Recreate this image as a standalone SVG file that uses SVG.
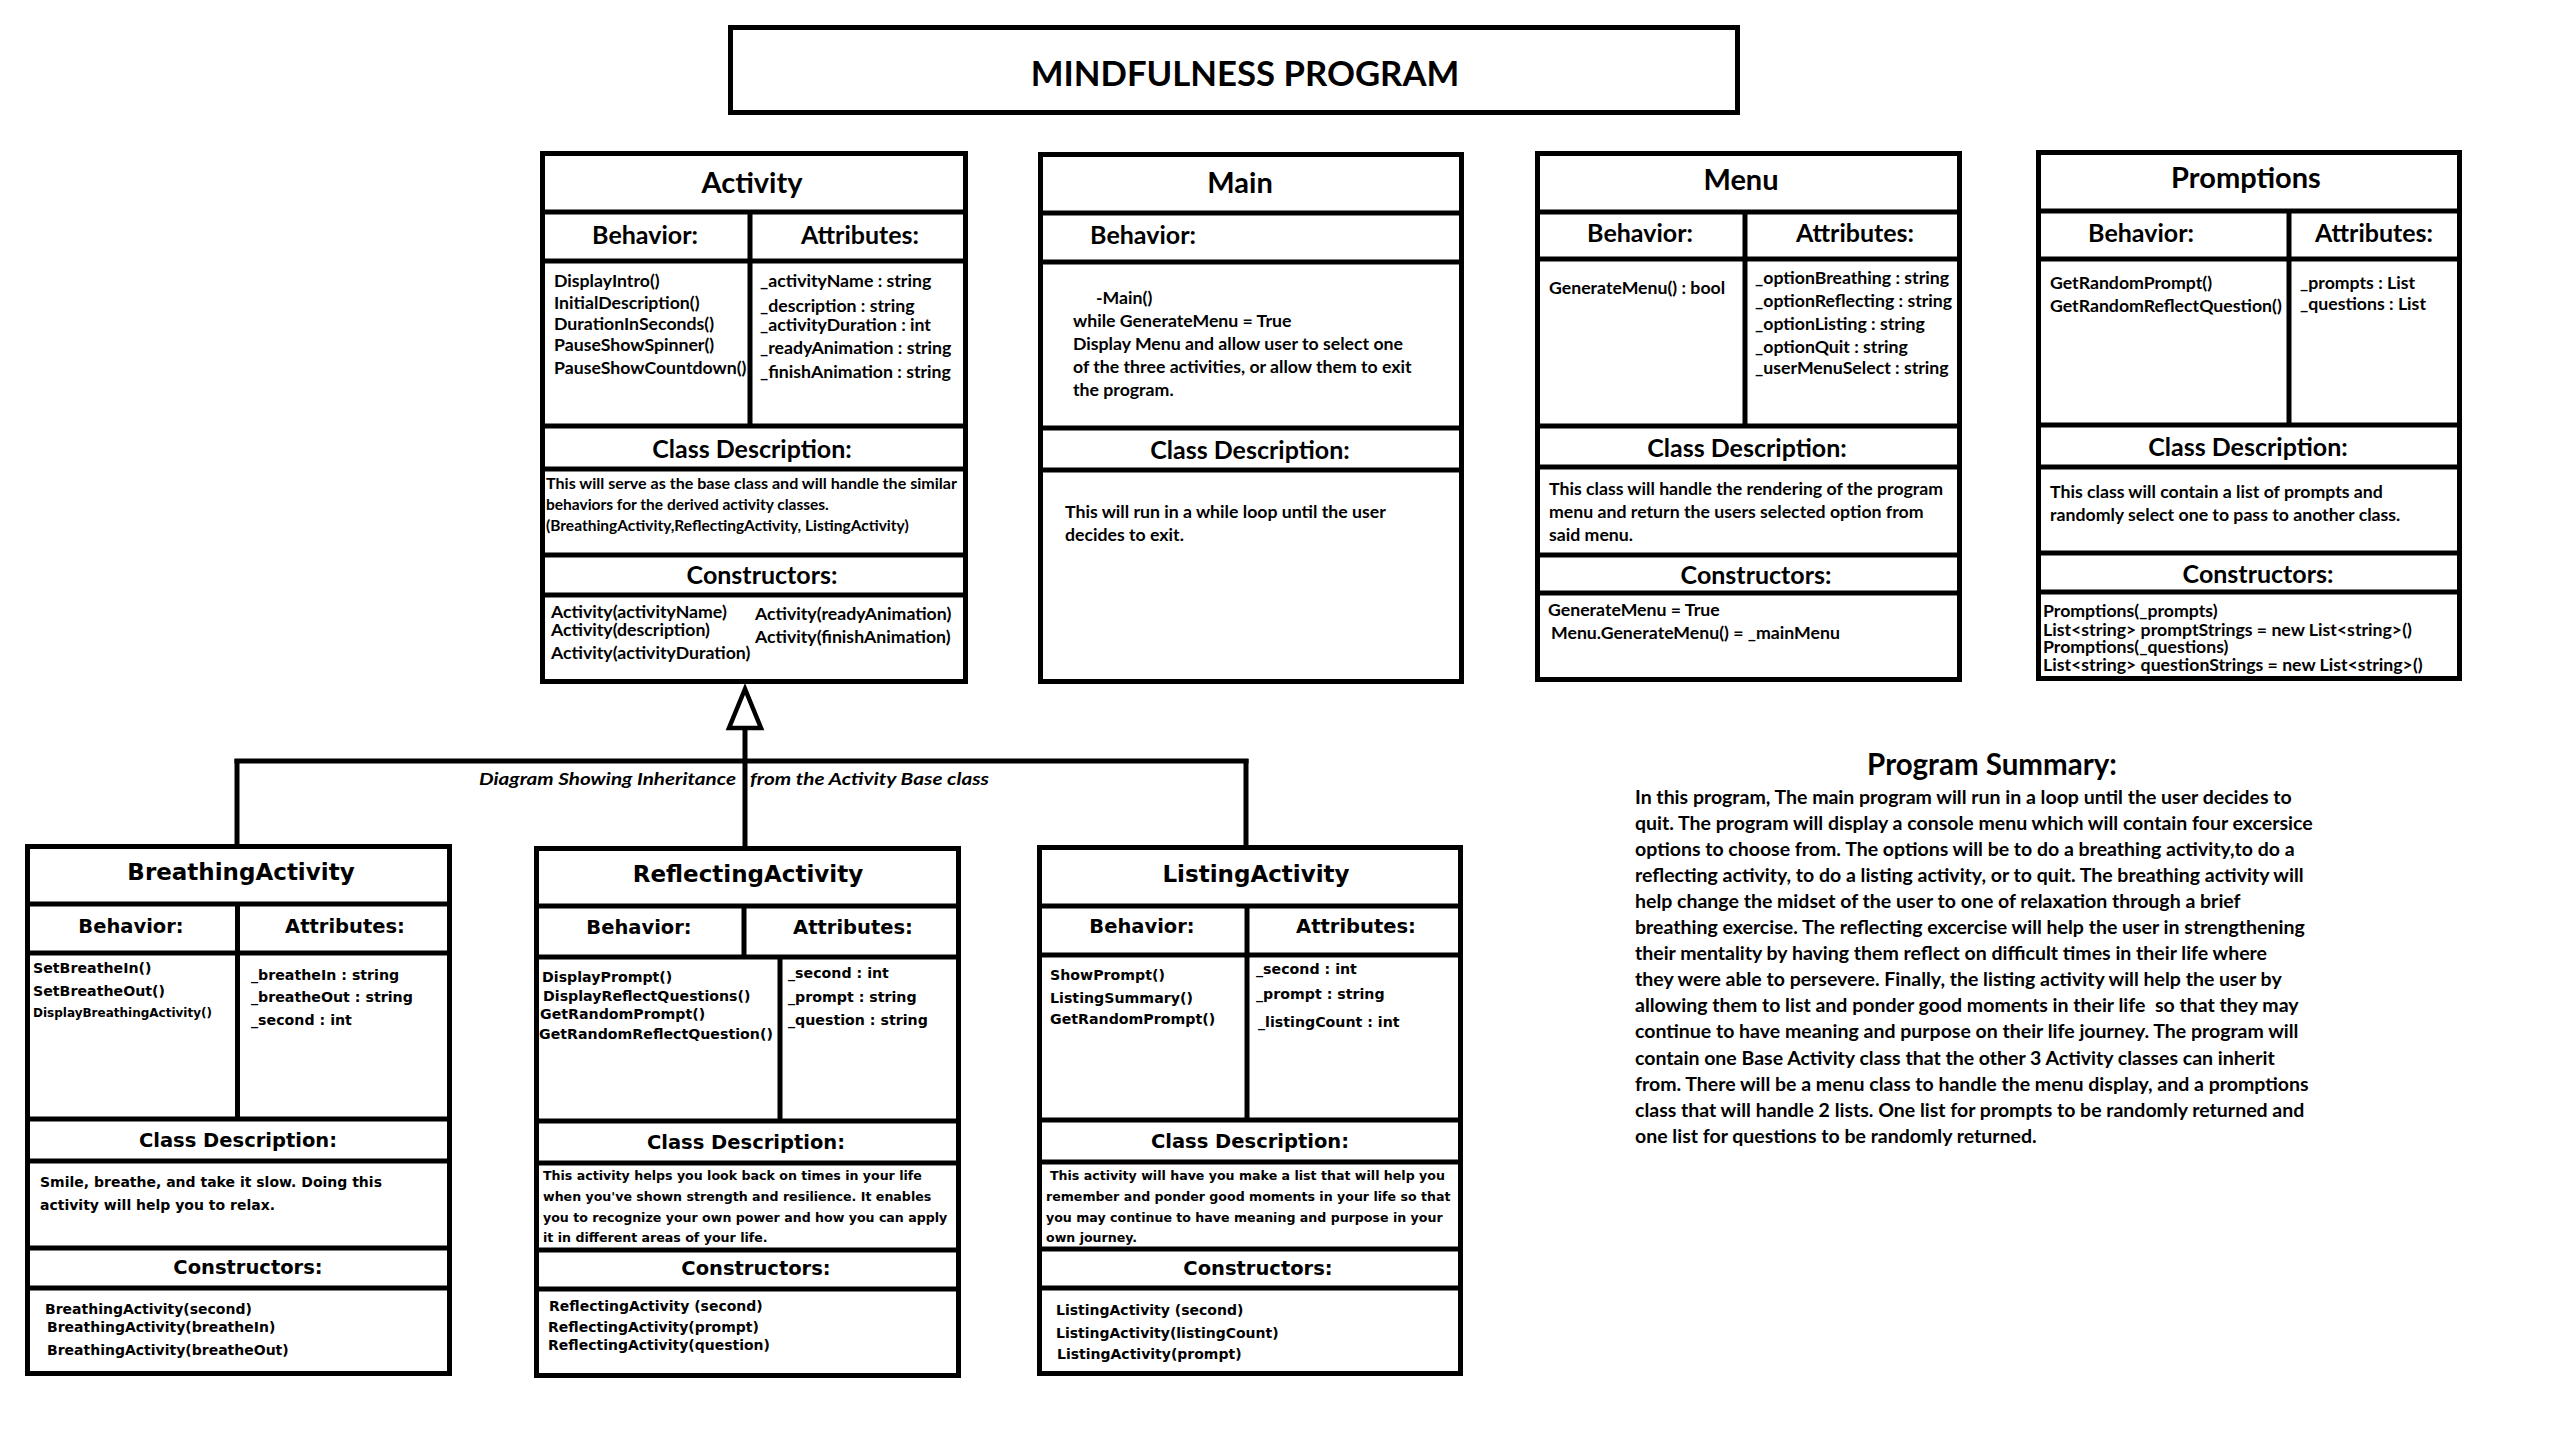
<svg xmlns="http://www.w3.org/2000/svg" width="2568" height="1444" viewBox="0 0 2568 1444">
<style>
.box{fill:#fff;stroke:#000;stroke-width:5}
.ln{stroke:#000;stroke-width:5;fill:none}
.t{font-family:Lato,"Open Sans","Liberation Sans",sans-serif;font-weight:700;fill:#000;dominant-baseline:central}
.m{text-anchor:middle}
.ttl{font-size:34.7px}
.h1{font-size:29px}
.h2{font-size:25px}
.c{font-size:17.7px}
.d{font-size:15.5px}
.b{font-family:"DejaVu Sans","Liberation Sans",sans-serif;font-weight:700;fill:#000;dominant-baseline:central}
.bh1{font-size:23px}
.bh2{font-size:19.5px}
.bc{font-size:14.2px}
.bd{font-size:12.6px}
.bk{font-size:14px}
.lab{font-family:Lato,"Open Sans",sans-serif;font-style:italic;font-weight:700;font-size:17px;fill:#000;dominant-baseline:central}
.sum{font-size:19.5px;white-space:pre}
</style>
<rect x="0" y="0" width="2568" height="1444" fill="#fff"/>

<g id="title">
<rect class="box" x="730.5" y="27.5" width="1007" height="85"/>
<text class="t m ttl" x="1245" y="72">MINDFULNESS PROGRAM</text>
</g>

<g id="activity">
<rect class="box" x="542.5" y="153.5" width="423" height="528"/>
<line class="ln" x1="542" y1="212" x2="966" y2="212"/>
<line class="ln" x1="542" y1="261" x2="966" y2="261"/>
<line class="ln" x1="750" y1="212" x2="750" y2="426"/>
<line class="ln" x1="542" y1="426" x2="966" y2="426"/>
<line class="ln" x1="542" y1="469" x2="966" y2="469"/>
<line class="ln" x1="542" y1="555" x2="966" y2="555"/>
<line class="ln" x1="542" y1="595" x2="966" y2="595"/>
<text class="t m h1" x="752" y="181">Activity</text>
<text class="t m h2" x="645" y="234">Behavior:</text>
<text class="t m h2" x="860" y="234">Attributes:</text>
<text class="t c" x="554" y="280">DisplayIntro()</text>
<text class="t c" x="554" y="302">InitialDescription()</text>
<text class="t c" x="554" y="323">DurationInSeconds()</text>
<text class="t c" x="554" y="344">PauseShowSpinner()</text>
<text class="t c" x="554" y="367">PauseShowCountdown()</text>
<text class="t c" x="760" y="280">_activityName : string</text>
<text class="t c" x="760" y="305">_description : string</text>
<text class="t c" x="760" y="324">_activityDuration : int</text>
<text class="t c" x="760" y="347">_readyAnimation : string</text>
<text class="t c" x="760" y="371">_finishAnimation : string</text>
<text class="t m h2" x="752" y="448">Class Description:</text>
<text class="t d" x="546" y="483" textLength="411" lengthAdjust="spacingAndGlyphs">This will serve as the base class and will handle the similar</text>
<text class="t d" x="546" y="504">behaviors for the derived activity classes.</text>
<text class="t d" x="546" y="525">(BreathingActivity,ReflectingActivity, ListingActivity)</text>
<text class="t m h2" x="762" y="574">Constructors:</text>
<text class="t c" x="551" y="611">Activity(activityName)</text>
<text class="t c" x="551" y="629">Activity(description)</text>
<text class="t c" x="551" y="652">Activity(activityDuration)</text>
<text class="t c" x="755" y="613">Activity(readyAnimation)</text>
<text class="t c" x="755" y="636">Activity(finishAnimation)</text>
</g>

<g id="main">
<rect class="box" x="1040.5" y="154.5" width="421" height="527"/>
<line class="ln" x1="1040" y1="213" x2="1462" y2="213"/>
<line class="ln" x1="1040" y1="262" x2="1462" y2="262"/>
<line class="ln" x1="1040" y1="428" x2="1462" y2="428"/>
<line class="ln" x1="1040" y1="470" x2="1462" y2="470"/>
<text class="t m h1" x="1240" y="181">Main</text>
<text class="t m h2" x="1143" y="234">Behavior:</text>
<text class="t c" x="1096" y="297">-Main()</text>
<text class="t c" x="1073" y="320">while GenerateMenu = True</text>
<text class="t c" x="1073" y="343">Display Menu and allow user to select one</text>
<text class="t c" x="1073" y="366">of the three activities, or allow them to exit</text>
<text class="t c" x="1073" y="389">the program.</text>
<text class="t m h2" x="1250" y="449">Class Description:</text>
<text class="t c" x="1065" y="511">This will run in a while loop until the user</text>
<text class="t c" x="1065" y="534">decides to exit.</text>
</g>

<g id="menu">
<rect class="box" x="1537.5" y="153.5" width="422" height="526"/>
<line class="ln" x1="1537" y1="212" x2="1960" y2="212"/>
<line class="ln" x1="1537" y1="259" x2="1960" y2="259"/>
<line class="ln" x1="1745" y1="212" x2="1745" y2="426"/>
<line class="ln" x1="1537" y1="426" x2="1960" y2="426"/>
<line class="ln" x1="1537" y1="467" x2="1960" y2="467"/>
<line class="ln" x1="1537" y1="555" x2="1960" y2="555"/>
<line class="ln" x1="1537" y1="593" x2="1960" y2="593"/>
<text class="t m h1" x="1741" y="178">Menu</text>
<text class="t m h2" x="1640" y="232">Behavior:</text>
<text class="t m h2" x="1855" y="232">Attributes:</text>
<text class="t c" x="1549" y="287">GenerateMenu() : bool</text>
<text class="t c" x="1755" y="277">_optionBreathing : string</text>
<text class="t c" x="1755" y="300">_optionReflecting : string</text>
<text class="t c" x="1755" y="323">_optionListing : string</text>
<text class="t c" x="1755" y="346">_optionQuit : string</text>
<text class="t c" x="1755" y="367">_userMenuSelect : string</text>
<text class="t m h2" x="1747" y="447">Class Description:</text>
<text class="t c" x="1549" y="488">This class will handle the rendering of the program</text>
<text class="t c" x="1549" y="511">menu and return the users selected option from</text>
<text class="t c" x="1549" y="534">said menu.</text>
<text class="t m h2" x="1756" y="574">Constructors:</text>
<text class="t c" x="1548" y="609">GenerateMenu = True</text>
<text class="t c" x="1551" y="632">Menu.GenerateMenu() = _mainMenu</text>
</g>

<g id="promptions">
<rect class="box" x="2038.5" y="152.5" width="421" height="526"/>
<line class="ln" x1="2038" y1="211" x2="2460" y2="211"/>
<line class="ln" x1="2038" y1="259" x2="2460" y2="259"/>
<line class="ln" x1="2289" y1="211" x2="2289" y2="425"/>
<line class="ln" x1="2038" y1="425" x2="2460" y2="425"/>
<line class="ln" x1="2038" y1="467" x2="2460" y2="467"/>
<line class="ln" x1="2038" y1="553" x2="2460" y2="553"/>
<line class="ln" x1="2038" y1="592" x2="2460" y2="592"/>
<text class="t m h1" x="2246" y="176">Promptions</text>
<text class="t m h2" x="2141" y="232">Behavior:</text>
<text class="t m h2" x="2374" y="232">Attributes:</text>
<text class="t c" x="2050" y="282">GetRandomPrompt()</text>
<text class="t c" x="2050" y="305">GetRandomReflectQuestion()</text>
<text class="t c" x="2300" y="282">_prompts : List</text>
<text class="t c" x="2300" y="303">_questions : List</text>
<text class="t m h2" x="2248" y="446">Class Description:</text>
<text class="t c" x="2050" y="491">This class will contain a list of prompts and</text>
<text class="t c" x="2050" y="514">randomly select one to pass to another class.</text>
<text class="t m h2" x="2258" y="573">Constructors:</text>
<text class="t c" x="2043" y="610">Promptions(_prompts)</text>
<text class="t c" x="2043" y="629">List&lt;string&gt; promptStrings = new List&lt;string&gt;()</text>
<text class="t c" x="2043" y="646">Promptions(_questions)</text>
<text class="t c" x="2043" y="664">List&lt;string&gt; questionStrings = new List&lt;string&gt;()</text>
</g>

<g id="connectors">
<line class="ln" x1="745" y1="728" x2="745" y2="848"/>
<line class="ln" x1="234.5" y1="761" x2="1248.5" y2="761"/>
<line class="ln" x1="237" y1="759" x2="237" y2="847"/>
<line class="ln" x1="1246" y1="759" x2="1246" y2="847"/>
<polygon points="745,689 729,728 761,728" fill="#fff" stroke="#000" stroke-width="4.5" stroke-linejoin="miter"/>
<text class="lab" x="479" y="778" textLength="257" lengthAdjust="spacingAndGlyphs">Diagram Showing Inheritance</text>
<text class="lab" x="750" y="778" textLength="239" lengthAdjust="spacingAndGlyphs">from the Activity Base class</text>
</g>

<g id="breathing">
<rect class="box" x="27.5" y="846.5" width="422" height="527"/>
<line class="ln" x1="27" y1="904" x2="450" y2="904"/>
<line class="ln" x1="27" y1="953" x2="450" y2="953"/>
<line class="ln" x1="237.5" y1="904" x2="237.5" y2="1119"/>
<line class="ln" x1="27" y1="1119" x2="450" y2="1119"/>
<line class="ln" x1="27" y1="1161" x2="450" y2="1161"/>
<line class="ln" x1="27" y1="1248" x2="450" y2="1248"/>
<line class="ln" x1="27" y1="1288" x2="450" y2="1288"/>
<text class="b m bh1" x="241" y="872">BreathingActivity</text>
<text class="b m bh2" x="131" y="926">Behavior:</text>
<text class="b m bh2" x="345" y="926">Attributes:</text>
<text class="b bc" x="33" y="968">SetBreatheIn()</text>
<text class="b bc" x="33" y="991">SetBreatheOut()</text>
<text class="b" x="33" y="1013" font-size="12">DisplayBreathingActivity()</text>
<text class="b bc" x="251" y="975">_breatheIn : string</text>
<text class="b bc" x="251" y="997">_breatheOut : string</text>
<text class="b bc" x="251" y="1020">_second : int</text>
<text class="b m bh2" x="238" y="1140">Class Description:</text>
<text class="b" x="40" y="1182" font-size="14">Smile, breathe, and take it slow. Doing this</text>
<text class="b" x="40" y="1205" font-size="14">activity will help you to relax.</text>
<text class="b m bh2" x="248" y="1267">Constructors:</text>
<text class="b bk" x="45" y="1309">BreathingActivity(second)</text>
<text class="b bk" x="47" y="1327">BreathingActivity(breatheIn)</text>
<text class="b bk" x="47" y="1350">BreathingActivity(breatheOut)</text>
</g>

<g id="reflecting">
<rect class="box" x="536.5" y="848.5" width="422" height="527"/>
<line class="ln" x1="536" y1="906" x2="959" y2="906"/>
<line class="ln" x1="536" y1="957" x2="959" y2="957"/>
<line class="ln" x1="744" y1="906" x2="744" y2="957"/>
<line class="ln" x1="780" y1="957" x2="780" y2="1121"/>
<line class="ln" x1="536" y1="1121" x2="959" y2="1121"/>
<line class="ln" x1="536" y1="1163" x2="959" y2="1163"/>
<line class="ln" x1="536" y1="1250" x2="959" y2="1250"/>
<line class="ln" x1="536" y1="1289" x2="959" y2="1289"/>
<text class="b m bh1" x="748" y="874">ReflectingActivity</text>
<text class="b m bh2" x="639" y="927">Behavior:</text>
<text class="b m bh2" x="853" y="927">Attributes:</text>
<text class="b bc" x="542" y="977">DisplayPrompt()</text>
<text class="b bc" x="543" y="996">DisplayReflectQuestions()</text>
<text class="b bc" x="540" y="1014">GetRandomPrompt()</text>
<text class="b bc" x="539" y="1034">GetRandomReflectQuestion()</text>
<text class="b bc" x="788" y="973">_second : int</text>
<text class="b bc" x="788" y="997">_prompt : string</text>
<text class="b bc" x="788" y="1020">_question : string</text>
<text class="b m bh2" x="746" y="1142">Class Description:</text>
<text class="b bd" x="543" y="1175">This activity helps you look back on times in your life</text>
<text class="b bd" x="543" y="1196">when you've shown strength and resilience. It enables</text>
<text class="b bd" x="543" y="1217">you to recognize your own power and how you can apply</text>
<text class="b bd" x="543" y="1237">it in different areas of your life.</text>
<text class="b m bh2" x="756" y="1268">Constructors:</text>
<text class="b bk" x="549" y="1306">ReflectingActivity (second)</text>
<text class="b bk" x="548" y="1327">ReflectingActivity(prompt)</text>
<text class="b bk" x="548" y="1345">ReflectingActivity(question)</text>
</g>

<g id="listing">
<rect class="box" x="1039.5" y="847.5" width="421" height="526"/>
<line class="ln" x1="1039" y1="906" x2="1461" y2="906"/>
<line class="ln" x1="1039" y1="955" x2="1461" y2="955"/>
<line class="ln" x1="1247" y1="906" x2="1247" y2="1120"/>
<line class="ln" x1="1039" y1="1120" x2="1461" y2="1120"/>
<line class="ln" x1="1039" y1="1162" x2="1461" y2="1162"/>
<line class="ln" x1="1039" y1="1249" x2="1461" y2="1249"/>
<line class="ln" x1="1039" y1="1288" x2="1461" y2="1288"/>
<text class="b m bh1" x="1256" y="874">ListingActivity</text>
<text class="b m bh2" x="1142" y="926">Behavior:</text>
<text class="b m bh2" x="1356" y="926">Attributes:</text>
<text class="b bc" x="1050" y="975">ShowPrompt()</text>
<text class="b bc" x="1050" y="998">ListingSummary()</text>
<text class="b bc" x="1050" y="1019">GetRandomPrompt()</text>
<text class="b bc" x="1256" y="969">_second : int</text>
<text class="b bc" x="1256" y="994">_prompt : string</text>
<text class="b bc" x="1258" y="1022">_listingCount : int</text>
<text class="b m bh2" x="1250" y="1141">Class Description:</text>
<text class="b bd" x="1050" y="1175">This activity will have you make a list that will help you</text>
<text class="b bd" x="1046" y="1196">remember and ponder good moments in your life so that</text>
<text class="b bd" x="1046" y="1217">you may continue to have meaning and purpose in your</text>
<text class="b bd" x="1046" y="1237">own journey.</text>
<text class="b m bh2" x="1258" y="1268">Constructors:</text>
<text class="b bk" x="1056" y="1310">ListingActivity (second)</text>
<text class="b bk" x="1056" y="1333">ListingActivity(listingCount)</text>
<text class="b bk" x="1057" y="1354">ListingActivity(prompt)</text>
</g>

<g id="summary">
<text class="t m" x="1992" y="763" font-size="29.5">Program Summary:</text>
<text class="t sum" x="1635" y="796">In this program, The main program will run in a loop until the user decides to</text>
<text class="t sum" x="1635" y="822">quit. The program will display a console menu which will contain four excersice</text>
<text class="t sum" x="1635" y="848">options to choose from. The options will be to do a breathing activity,to do a</text>
<text class="t sum" x="1635" y="874">reflecting activity, to do a listing activity, or to quit. The breathing activity will</text>
<text class="t sum" x="1635" y="900">help change the midset of the user to one of relaxation through a brief</text>
<text class="t sum" x="1635" y="926">breathing exercise. The reflecting excercise will help the user in strengthening</text>
<text class="t sum" x="1635" y="952">their mentality by having them reflect on difficult times in their life where</text>
<text class="t sum" x="1635" y="978">they were able to persevere. Finally, the listing activity will help the user by</text>
<text class="t sum" x="1635" y="1004">allowing them to list and ponder good moments in their life  so that they may</text>
<text class="t sum" x="1635" y="1030">continue to have meaning and purpose on their life journey. The program will</text>
<text class="t sum" x="1635" y="1057">contain one Base Activity class that the other 3 Activity classes can inherit</text>
<text class="t sum" x="1635" y="1083">from. There will be a menu class to handle the menu display, and a promptions</text>
<text class="t sum" x="1635" y="1109">class that will handle 2 lists. One list for prompts to be randomly returned and</text>
<text class="t sum" x="1635" y="1135">one list for questions to be randomly returned.</text>
</g>
</svg>
